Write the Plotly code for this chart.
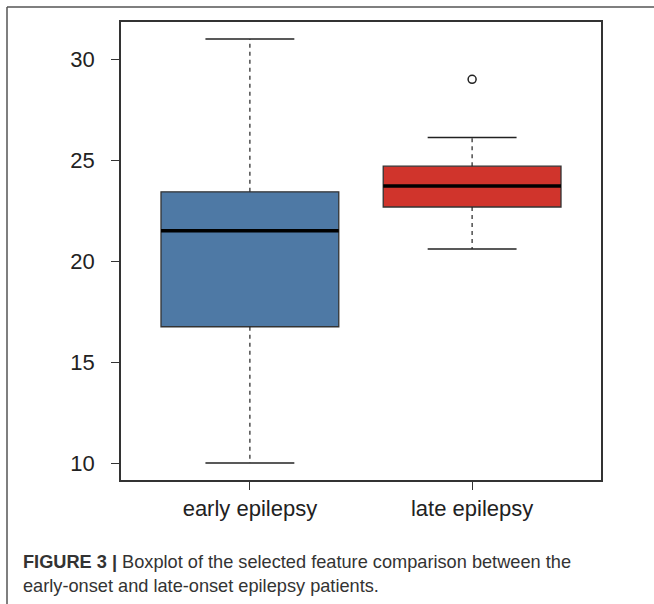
import plotly.graph_objects as go

# ---- data ----
groups = ["early epilepsy", "late epilepsy"]
lower_whisker = [10.0, 20.6]
q1 = [16.75, 22.68]
median = [21.5, 23.72]
q3 = [23.43, 24.7]
upper_whisker = [31.0, 26.12]
outliers = [[], [29.0]]
fill_colors = ["#4E79A5", "#D0342C"]
y_ticks = [10, 15, 20, 25, 30]

BOX_HALF = 0.4
CAP_HALF = 0.2
INK = "#222222"

fig = go.Figure()

for i, g in enumerate(groups):
    c = i + 1
    # box body
    fig.add_trace(go.Box(
        x=[c], q1=[q1[i]], median=[median[i]], q3=[q3[i]],
        lowerfence=[q1[i]], upperfence=[q3[i]],
        width=2 * BOX_HALF, whiskerwidth=0, boxpoints=False,
        fillcolor=fill_colors[i], line=dict(color="#333333", width=1.3),
        name=g, showlegend=False, hoverinfo="skip"))
    # dashed whiskers
    fig.add_trace(go.Scatter(
        x=[c, c, None, c, c],
        y=[q3[i], upper_whisker[i], None, q1[i], lower_whisker[i]],
        mode="lines", line=dict(color=INK, width=1.2, dash="4px,4px"),
        showlegend=False, hoverinfo="skip"))
    # caps
    fig.add_trace(go.Scatter(
        x=[c - CAP_HALF, c + CAP_HALF, None, c - CAP_HALF, c + CAP_HALF],
        y=[upper_whisker[i], upper_whisker[i], None, lower_whisker[i], lower_whisker[i]],
        mode="lines", line=dict(color=INK, width=1.5),
        showlegend=False, hoverinfo="skip"))
    # median
    fig.add_trace(go.Scatter(
        x=[c - BOX_HALF, c + BOX_HALF], y=[median[i], median[i]],
        mode="lines", line=dict(color="#000000", width=3.5),
        showlegend=False, hoverinfo="skip"))
    # outliers
    if outliers[i]:
        fig.add_trace(go.Scatter(
            x=[c] * len(outliers[i]), y=outliers[i], mode="markers",
            marker=dict(symbol="circle-open", size=8, color=INK,
                        line=dict(width=1.5, color=INK)),
            showlegend=False, hoverinfo="skip"))

font_fam = "Liberation Sans, Arial, sans-serif"

fig.update_layout(
    width=654, height=604,
    margin=dict(l=121, r=53, t=22, b=124),
    paper_bgcolor="white", plot_bgcolor="white",
    font=dict(family=font_fam, color="#222222"),
    xaxis=dict(range=[0.42, 2.58], tickvals=[1, 2], ticktext=groups,
               showgrid=False, zeroline=False, showline=True, mirror=True,
               linecolor="#333333", linewidth=1.5,
               ticks="outside", ticklen=8, tickwidth=1.3, tickcolor="#333333",
               tickfont=dict(size=22, color="#222222"), ticklabelstandoff=0),
    yaxis=dict(range=[9.16, 31.84], tickvals=y_ticks,
               showgrid=False, zeroline=False, showline=True, mirror=True,
               linecolor="#333333", linewidth=1.5,
               ticks="outside", ticklen=8, tickwidth=1.3, tickcolor="#333333",
               tickfont=dict(size=22, color="#222222"), ticklabelstandoff=12),
)

# figure frame (top and left rules)
fig.add_shape(type="line", xref="paper", yref="paper",
              x0=-0.2375, x1=1.12, y0=1.0328, y1=1.0328,
              line=dict(color="#555555", width=1.5))
fig.add_shape(type="line", xref="paper", yref="paper",
              x0=-0.2375, x1=-0.2375, y0=1.0328, y1=-0.28,
              line=dict(color="#555555", width=1.5))

# caption
fig.add_annotation(xref="paper", yref="paper", x=-0.208, y=-0.179,
                   xanchor="left", yanchor="middle", showarrow=False,
                   text="<b>FIGURE 3 |</b> Boxplot of the selected feature comparison between the",
                   font=dict(size=18.2, color="#333333", family=font_fam))
fig.add_annotation(xref="paper", yref="paper", x=-0.208, y=-0.2314,
                   xanchor="left", yanchor="middle", showarrow=False,
                   text="early-onset and late-onset epilepsy patients.",
                   font=dict(size=18.2, color="#333333", family=font_fam))

fig.write_html("out.html", config={"displayModeBar": False},
               post_script="document.body.style.margin='0';")
